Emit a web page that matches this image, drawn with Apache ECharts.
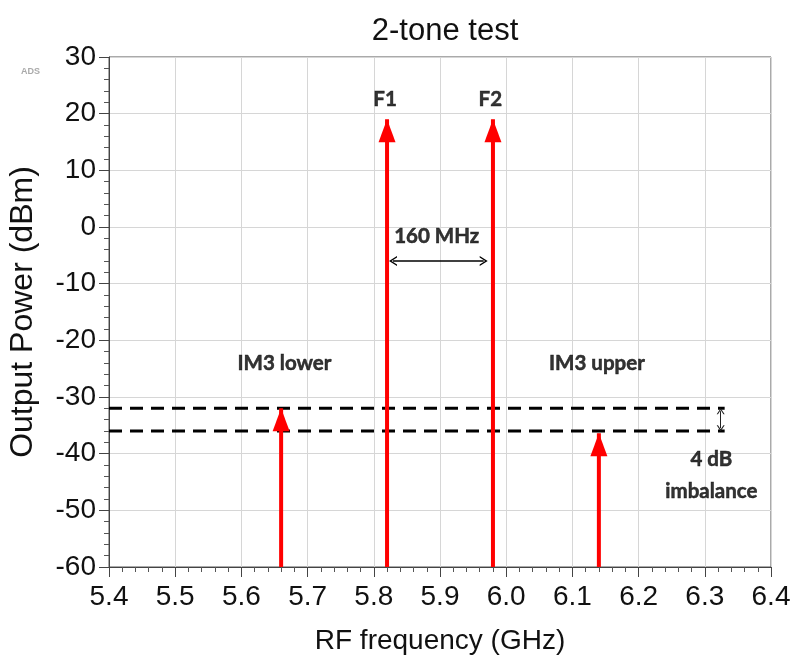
<!DOCTYPE html>
<html>
<head>
<meta charset="utf-8">
<title>2-tone test</title>
<script src="https://cdn.jsdelivr.net/npm/echarts@6/dist/echarts.min.js"></script>
<style>
  html, body { margin: 0; padding: 0; background: #fff; }
  #chart { width: 793px; height: 655px; }
</style>
</head>
<body>
<div id="chart"></div>
<script>
// Tones of the two-tone measurement (frequency in GHz, peak power in dBm)
const toneNames = ['IM3 lower', 'F1', 'F2', 'IM3 upper'];
const toneFreqGHz = [5.66, 5.82, 5.98, 6.14];
const tonePowerDbm = [-32, 19, 19, -36.4];
const noiseFloorDbm = -60;

// Reference levels of the two third-order products (4 dB apart)
const im3LevelsDbm = [-32, -36];
const im3LevelSpanGHz = [5.4, 6.33];

// Tone spacing marker (F1 -> F2) and imbalance marker
const spacingMarker = { from: 5.829, to: 5.966, level: -6 };
const imbalanceMarker = { freq: 6.324 };

// Axis ranges
const freqAxis = { min: 5.4, max: 6.4, step: 0.1 };
const powerAxis = { min: -60, max: 30, step: 10 };

// Text notes placed in data coordinates
const noteText = ['F1', 'F2', '160 MHz', 'IM3 lower', 'IM3 upper', '4 dB\nimbalance'];
const noteFreq = [5.817, 5.976, 5.895, 5.665, 6.137, 6.31];
const noteLevel = [22.6, 22.6, -1.7, -24, -24, -43.8];

const RED = '#ff0000';
const chevron = 'path://M0,10 L5,0 L10,10 L8.4,10 L5,3.2 L1.6,10 Z';

const toneSeries = toneNames.map((name, i) => ({
  name,
  type: 'line',
  symbol: 'triangle',
  symbolSize: [17, 23],
  symbolOffset: [0, '50%'],
  showSymbol: true,
  showAllSymbol: true,
  lineStyle: { color: RED, width: 4 },
  itemStyle: { color: RED },
  data: [
    { value: [toneFreqGHz[i], noiseFloorDbm], symbol: 'none' },
    { value: [toneFreqGHz[i], tonePowerDbm[i]] }
  ],
  z: 5
}));

const levelSeries = im3LevelsDbm.map((lvl) => ({
  type: 'line',
  symbol: 'none',
  lineStyle: { color: '#000', width: 3, type: [13, 8] },
  data: [[im3LevelSpanGHz[0], lvl], [im3LevelSpanGHz[1], lvl]],
  z: 4
}));

const markerSeries = {
  type: 'line',
  data: [],
  symbol: 'none',
  markLine: {
    silent: true,
    animation: false,
    symbol: [chevron, chevron],
    label: { show: false },
    emphasis: { disabled: true },
    data: [
      [
        { coord: [spacingMarker.from, spacingMarker.level], symbolSize: [10, 8], lineStyle: { color: '#000', width: 1.5, type: 'solid' } },
        { coord: [spacingMarker.to, spacingMarker.level], symbolSize: [10, 8] }
      ],
      [
        { coord: [imbalanceMarker.freq, im3LevelsDbm[0] - 0.5], symbolSize: [8, 6], lineStyle: { color: '#222', width: 1, type: 'solid' } },
        { coord: [imbalanceMarker.freq, im3LevelsDbm[1] + 0.5], symbolSize: [8, 6] }
      ]
    ]
  }
};

const noteSeries = {
  type: 'scatter',
  symbol: 'circle',
  symbolSize: 1,
  itemStyle: { color: 'rgba(0,0,0,0)' },
  silent: true,
  label: {
    show: true,
    position: 'inside',
    formatter: (p) => p.name,
    color: '#000',
    fontFamily: 'Lato',
    fontWeight: 'bold',
    fontSize: 20.5,
    lineHeight: 32,
    textBorderColor: '#000',
    textBorderWidth: 0.5,
    align: 'center',
    verticalAlign: 'middle'
  },
  data: noteText.map((t, i) => ({ name: t, value: [noteFreq[i], noteLevel[i]] })),
  z: 6
};

const chart = echarts.init(document.getElementById('chart'), null, { renderer: 'canvas' });
chart.setOption({
  animation: false,
  backgroundColor: '#fff',
  title: {
    text: '2-tone test',
    left: 440,
    textAlign: 'center',
    top: 11,
    textStyle: { fontFamily: 'Liberation Sans', fontWeight: 'normal', fontSize: 31, color: '#111' }
  },
  graphic: [{
    type: 'text',
    left: 21,
    top: 67,
    style: { text: 'ADS', fontFamily: 'Liberation Sans', fontSize: 9, fontWeight: 'bold', fill: '#aaa' }
  }],
  grid: {
    left: 109, right: 22, top: 57, bottom: 88,
    outerBoundsMode: 'none',
    containLabel: false,
    show: true, borderColor: '#555', borderWidth: 1
  },
  xAxis: {
    type: 'value',
    min: freqAxis.min, max: freqAxis.max, interval: freqAxis.step,
    name: 'RF frequency (GHz)',
    nameLocation: 'middle',
    nameGap: 60,
    nameTextStyle: { fontFamily: 'Liberation Sans', fontSize: 28, color: '#111' },
    axisLine: { onZero: false, lineStyle: { color: '#444', width: 1 } },
    axisTick: { show: true, inside: false, length: 10, lineStyle: { color: '#444' } },
    minorTick: { show: true, splitNumber: 5, length: 5, lineStyle: { color: '#555' } },
    splitLine: { show: true, lineStyle: { color: '#d6d6d6', width: 1 } },
    axisLabel: {
      margin: 16,
      fontFamily: 'Liberation Sans', fontSize: 28, color: '#111',
      formatter: (v) => v.toFixed(1)
    }
  },
  yAxis: {
    type: 'value',
    min: powerAxis.min, max: powerAxis.max, interval: powerAxis.step,
    name: 'Output Power (dBm)',
    nameLocation: 'middle',
    nameGap: 70,
    nameTextStyle: { fontFamily: 'Liberation Sans', fontSize: 32, color: '#111' },
    axisLine: { show: true, onZero: false, lineStyle: { color: '#444', width: 1 } },
    axisTick: { show: true, inside: false, length: 10, lineStyle: { color: '#444' } },
    minorTick: { show: true, splitNumber: 5, length: 5, lineStyle: { color: '#555' } },
    splitLine: { show: true, lineStyle: { color: '#d6d6d6', width: 1 } },
    axisLabel: { margin: 13, fontFamily: 'Liberation Sans', fontSize: 28, color: '#111' }
  },
  series: [...levelSeries, ...toneSeries, markerSeries, noteSeries]
});
</script>
</body>
</html>
